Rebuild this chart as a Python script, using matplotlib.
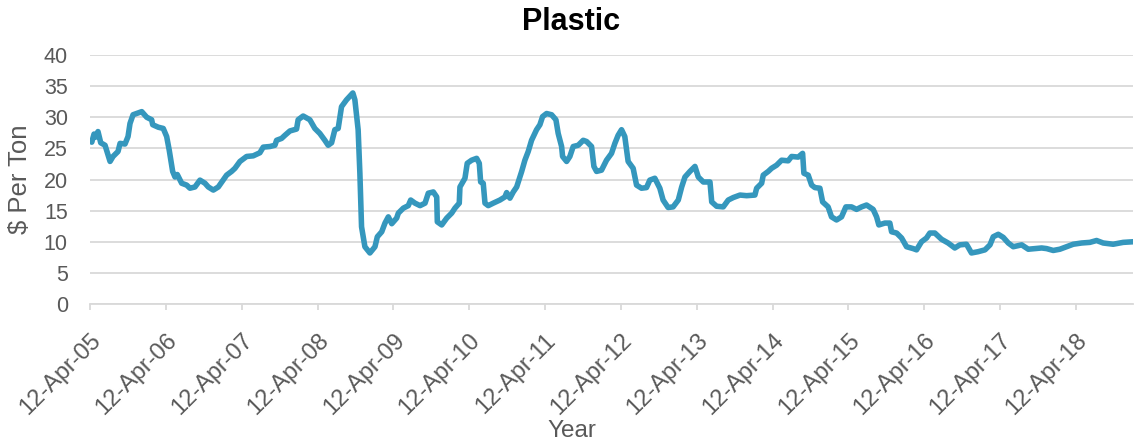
import matplotlib
matplotlib.use('Agg')
import matplotlib.pyplot as plt
import matplotlib.dates as mdates
from datetime import datetime, timedelta

plt.rcParams['font.family'] = ['Liberation Sans', 'DejaVu Sans']

# weekly plastic scrap price, time as decimal year
years = [
    2005.277, 2005.300, 2005.330, 2005.350, 2005.382, 2005.418, 2005.475, 2005.541,
    2005.580, 2005.646, 2005.673, 2005.738, 2005.778, 2005.804, 2005.844, 2005.959,
    2006.025, 2006.090, 2006.104, 2006.177, 2006.243, 2006.288, 2006.322, 2006.367,
    2006.398, 2006.428, 2006.486, 2006.552, 2006.595, 2006.661, 2006.727, 2006.793,
    2006.837, 2006.903, 2006.969, 2007.079, 2007.145, 2007.189, 2007.255, 2007.343,
    2007.430, 2007.518, 2007.562, 2007.650, 2007.716, 2007.738, 2007.804, 2007.848,
    2007.914, 2008.002, 2008.023, 2008.089, 2008.177, 2008.243, 2008.309, 2008.375,
    2008.419, 2008.464, 2008.507, 2008.551, 2008.595, 2008.661, 2008.744, 2008.771,
    2008.814, 2008.837, 2008.859, 2008.903, 2008.969, 2009.034, 2009.065, 2009.123,
    2009.166, 2009.210, 2009.255, 2009.320, 2009.342, 2009.408, 2009.473, 2009.505,
    2009.562, 2009.628, 2009.694, 2009.737, 2009.803, 2009.848, 2009.856, 2009.914,
    2009.980, 2010.046, 2010.089, 2010.146, 2010.155, 2010.221, 2010.251, 2010.309,
    2010.375, 2010.410, 2010.428, 2010.462, 2010.485, 2010.528, 2010.594, 2010.682,
    2010.748, 2010.771, 2010.814, 2010.858, 2010.903, 2010.946, 2010.969, 2011.012,
    2011.056, 2011.100, 2011.166, 2011.210, 2011.245, 2011.298, 2011.364, 2011.421,
    2011.451, 2011.496, 2011.509, 2011.562, 2011.605, 2011.649, 2011.715, 2011.781,
    2011.826, 2011.891, 2011.922, 2011.957, 2012.023, 2012.089, 2012.155, 2012.199,
    2012.242, 2012.287, 2012.330, 2012.374, 2012.440, 2012.485, 2012.550, 2012.616,
    2012.660, 2012.726, 2012.792, 2012.835, 2012.901, 2012.967, 2013.033, 2013.078,
    2013.121, 2013.187, 2013.253, 2013.297, 2013.363, 2013.451, 2013.474, 2013.539,
    2013.626, 2013.692, 2013.758, 2013.847, 2013.935, 2014.044, 2014.067, 2014.133,
    2014.154, 2014.220, 2014.264, 2014.330, 2014.396, 2014.483, 2014.528, 2014.615,
    2014.673, 2014.690, 2014.747, 2014.792, 2014.835, 2014.901, 2014.937, 2015.010,
    2015.055, 2015.121, 2015.187, 2015.244, 2015.319, 2015.385, 2015.451, 2015.517,
    2015.604, 2015.649, 2015.679, 2015.758, 2015.824, 2015.847, 2015.913, 2015.979,
    2016.045, 2016.132, 2016.177, 2016.242, 2016.308, 2016.352, 2016.418, 2016.506,
    2016.593, 2016.681, 2016.747, 2016.835, 2016.901, 2016.988, 2017.077, 2017.143,
    2017.186, 2017.252, 2017.318, 2017.384, 2017.450, 2017.561, 2017.648, 2017.736,
    2017.824, 2017.890, 2017.977, 2018.065, 2018.154, 2018.241, 2018.352, 2018.461,
    2018.549, 2018.636, 2018.768, 2018.900, 2019.032,
]
price = [
    26.2, 26.0, 27.3, 26.8, 27.7, 25.9, 25.5, 22.9,
    23.7, 24.5, 25.8, 25.7, 26.9, 29.0, 30.4, 30.9,
    30.0, 29.6, 28.8, 28.4, 28.2, 26.9, 24.7, 21.3,
    20.4, 20.8, 19.4, 19.1, 18.6, 18.8, 19.9, 19.4,
    18.8, 18.3, 18.8, 20.7, 21.3, 21.8, 22.9, 23.7,
    23.8, 24.3, 25.2, 25.3, 25.5, 26.3, 26.6, 27.1,
    27.8, 28.1, 29.6, 30.2, 29.6, 28.2, 27.4, 26.3,
    25.5, 25.9, 28.0, 28.2, 31.7, 32.8, 33.9, 32.8,
    28.0, 21.0, 12.4, 9.2, 8.2, 9.2, 10.8, 11.6,
    13.0, 14.0, 12.9, 13.8, 14.6, 15.4, 15.8, 16.7,
    16.2, 15.8, 16.2, 17.8, 18.0, 17.2, 13.2, 12.7,
    13.8, 14.6, 15.4, 16.2, 18.8, 20.2, 22.6, 23.1,
    23.4, 22.6, 19.6, 19.4, 16.2, 15.8, 16.2, 16.7,
    17.2, 17.9, 17.0, 18.0, 18.8, 20.4, 21.3, 23.1,
    24.5, 26.3, 28.0, 28.8, 30.1, 30.6, 30.4, 29.6,
    27.4, 25.3, 23.7, 22.9, 23.7, 25.3, 25.5, 26.3,
    26.1, 25.3, 22.1, 21.3, 21.5, 23.1, 24.2, 25.8,
    27.1, 28.0, 26.9, 22.9, 21.8, 19.1, 18.6, 18.7,
    19.9, 20.2, 18.6, 16.7, 15.5, 15.6, 16.7, 18.8,
    20.4, 21.3, 22.1, 20.4, 19.6, 19.6, 16.4, 15.7,
    15.6, 16.7, 17.1, 17.5, 17.4, 17.5, 18.6, 19.4,
    20.7, 21.3, 21.8, 22.3, 23.1, 23.0, 23.7, 23.6,
    24.2, 21.0, 20.7, 19.1, 18.7, 18.6, 16.4, 15.6,
    14.0, 13.5, 14.0, 15.6, 15.6, 15.2, 15.6, 15.9,
    15.2, 14.0, 12.7, 13.0, 13.0, 11.6, 11.4, 10.6,
    9.2, 8.9, 8.7, 10.0, 10.6, 11.4, 11.4, 10.4,
    9.8, 9.0, 9.5, 9.6, 8.2, 8.4, 8.7, 9.5,
    10.8, 11.2, 10.7, 9.8, 9.2, 9.5, 8.8, 8.9,
    9.0, 8.9, 8.6, 8.8, 9.2, 9.6, 9.8, 9.9,
    10.2, 9.8, 9.6, 9.9, 10.0,
]

tick_years = list(range(2005, 2019))
y_ticks = [0, 5, 10, 15, 20, 25, 30, 35, 40]


def to_date(y):
    base = datetime(int(y), 1, 1)
    return base + timedelta(days=(y - int(y)) * 365.25)


dates = [to_date(y) for y in years]
tick_dates = [datetime(y, 4, 12) for y in tick_years]

GREY = '#595959'
GRID = '#d9d9d9'
LINE = '#3597bd'

fig = plt.figure(figsize=(11.36, 4.46), dpi=100)
ax = fig.add_axes([90 / 1136, 1 - 304 / 446, (1133 - 90) / 1136, (304 - 55) / 446])

ax.plot(dates, price, color=LINE, lw=4.0, solid_joinstyle='round',
        solid_capstyle='round', zorder=3)

ax.set_ylim(0, 40)
ax.set_yticks(y_ticks)
ax.set_xlim(datetime(2005, 4, 12), to_date(2019.03))
ax.set_xticks(tick_dates)
ax.xaxis.set_major_formatter(mdates.DateFormatter('%d-%b-%y'))

ax.grid(axis='y', color=GRID, lw=1.3)
ax.set_axisbelow(True)
for side in ['top', 'right', 'left']:
    ax.spines[side].set_visible(False)
ax.spines['bottom'].set_color(GRID)
ax.spines['bottom'].set_linewidth(1.3)

ax.tick_params(axis='y', length=0, pad=16, labelsize=15.5, labelcolor=GREY)
ax.tick_params(axis='x', length=4.5, width=1.3, color=GRID, pad=14,
               labelsize=17, labelcolor=GREY)
for lab in ax.get_xticklabels():
    lab.set_rotation(45)
    lab.set_ha('right')
    lab.set_rotation_mode('anchor')

fig.text(571 / 1136, 1 - 30 / 446, 'Plastic', ha='center', va='baseline',
         fontsize=22, fontweight='bold', color='black')
fig.text(572 / 1136, 1 - 437 / 446, 'Year', ha='center', va='baseline',
         fontsize=17.5, color=GREY)
fig.text(20 / 1136, 1 - 179.5 / 446, '$ Per Ton', ha='center', va='center',
         rotation=90, fontsize=18.5, color=GREY)

fig.savefig('out.png', dpi=100, facecolor='white')
plt.close(fig)
